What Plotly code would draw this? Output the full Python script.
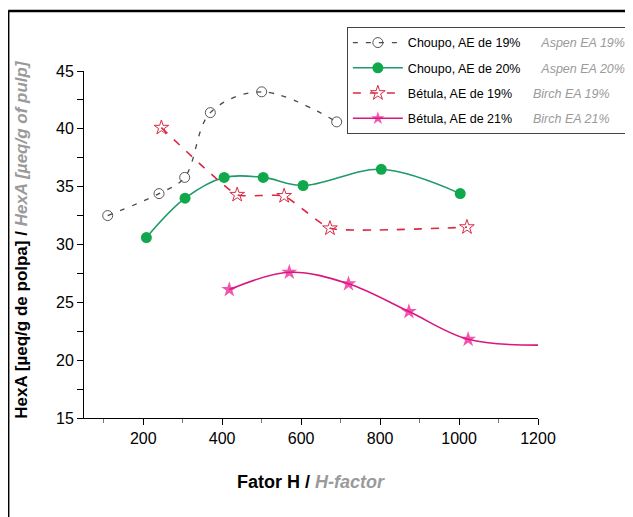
import plotly.graph_objects as go

# ---- data ----
choupo19_x = [110, 240, 305, 370, 500, 690]
choupo19_y = [32.5, 34.4, 35.8, 41.4, 43.2, 40.6]

choupo20_x = [208, 306, 405, 504, 605, 803, 1003]
choupo20_y = [30.6, 34.0, 35.8, 35.8, 35.1, 36.5, 34.4]

betula19_x = [246, 438, 557, 673, 1020]
betula19_y = [40.1, 34.3, 34.2, 31.4, 31.5]

betula21_x = [418, 570, 720, 873, 1023, 1200]
betula21_y = [26.1, 27.6, 26.6, 24.2, 21.8, 21.3]
betula21_marker = [1, 1, 1, 1, 1, 0]   # last point: curve end only, no marker

names_pt = ["Choupo, AE de 19%", "Choupo, AE de 20%", "Bétula, AE de 19%", "Bétula, AE de 21%"]
names_en = ["Aspen EA 19%", "Aspen EA 20%", "Birch EA 19%", "Birch EA 21%"]

x_ticks = [200, 400, 600, 800, 1000, 1200]
y_ticks = [15, 20, 25, 30, 35, 40, 45]

FONT = "Liberation Sans, Arial, sans-serif"
GRAY = "#9a9a9a"


def lname(i):
    return (f"{names_pt[i]}&nbsp;&nbsp;&nbsp;&nbsp;&nbsp;&nbsp;"
            f"<span style='color:{GRAY}'><i>{names_en[i]}</i></span>")


fig = go.Figure()

fig.add_trace(go.Scatter(
    x=choupo19_x, y=choupo19_y, mode="lines+markers", name=lname(0),
    line=dict(color="#4a4a4a", width=1.3, dash="5px,8px", shape="spline", smoothing=1.0),
    marker=dict(symbol="circle-open", size=10, color="#555555", line=dict(width=1)),
    legendgroup="a"))

fig.add_trace(go.Scatter(
    x=choupo20_x, y=choupo20_y, mode="lines+markers", name=lname(1),
    line=dict(color="#1f9a68", width=1.6, shape="spline", smoothing=1.0),
    marker=dict(symbol="circle", size=11, color="#10a84c"),
    legendgroup="b"))

fig.add_trace(go.Scatter(
    x=betula19_x, y=betula19_y, mode="lines+markers", name=lname(2),
    line=dict(color="#d92a45", width=1.6, dash="8px,9px", shape="spline", smoothing=0.4),
    marker=dict(symbol="star-open", size=11, color="#d92a45", line=dict(width=1)),
    legendgroup="c"))

fig.add_trace(go.Scatter(
    x=betula21_x, y=betula21_y, mode="lines+markers", name=lname(3),
    line=dict(color="#d9177f", width=1.6, shape="spline", smoothing=1.0),
    marker=dict(symbol="star", size=[12 * m for m in betula21_marker], color="#e8108a",
                line=dict(width=0)),
    legendgroup="d"))

fig.update_layout(
    width=625, height=509,
    margin=dict(l=76, r=95, t=63, b=99, autoexpand=False),
    paper_bgcolor="white", plot_bgcolor="white",
    font=dict(family=FONT, color="black"),
    showlegend=True,
    legend=dict(
        x=0.579, y=1.127, xanchor="left", yanchor="top",
        bgcolor="white", bordercolor="#444444", borderwidth=1,
        font=dict(family=FONT, size=12.5, color="black"),
        traceorder="grouped", tracegroupgap=6, itemwidth=50,
    ),
    xaxis=dict(
        range=[50, 1200], tickvals=x_ticks, ticks="outside", ticklen=6, tickwidth=1,
        tickcolor="black", showline=True, linecolor="black", linewidth=1,
        showgrid=False, zeroline=False,
        tickfont=dict(family=FONT, size=16, color="black"),
        minor=dict(tickvals=[100, 300, 500, 700, 900, 1100], ticks="outside",
                   ticklen=4, tickcolor="#777777"),
    ),
    yaxis=dict(
        range=[15, 45], tickvals=y_ticks, ticks="outside", ticklen=6, tickwidth=1,
        tickcolor="black", showline=True, linecolor="black", linewidth=1,
        showgrid=False, zeroline=False,
        tickfont=dict(family=FONT, size=16, color="black"),
        minor=dict(dtick=2.5, ticks="outside", ticklen=6, tickcolor="black"),
    ),
)

# axis titles
fig.add_annotation(
    xref="paper", yref="paper", x=0.50, y=-0.185, xanchor="center", yanchor="middle",
    text=f"<b>Fator H / </b><b><i><span style='color:{GRAY}'>H-factor</span></i></b>",
    showarrow=False, font=dict(family=FONT, size=18, color="black"))

fig.add_annotation(
    xref="paper", yref="paper", x=-0.137, y=0.516, xanchor="center", yanchor="middle",
    textangle=-90,
    text=(f"<b>HexA [µeq/g de polpa] / </b>"
          f"<b><i><span style='color:{GRAY}'>HexA [µeq/g of pulp]</span></i></b>"),
    showarrow=False, font=dict(family=FONT, size=17, color="black"))

# outer frame (left and top edges)
fig.add_shape(type="line", xref="paper", yref="paper",
              x0=-0.167, x1=-0.167, y0=-0.35, y1=1.173,
              line=dict(color="black", width=2.5))
fig.add_shape(type="line", xref="paper", yref="paper",
              x0=-0.167, x1=1.25, y0=1.173, y1=1.173,
              line=dict(color="black", width=2.5))

fig.write_html("out.html")
